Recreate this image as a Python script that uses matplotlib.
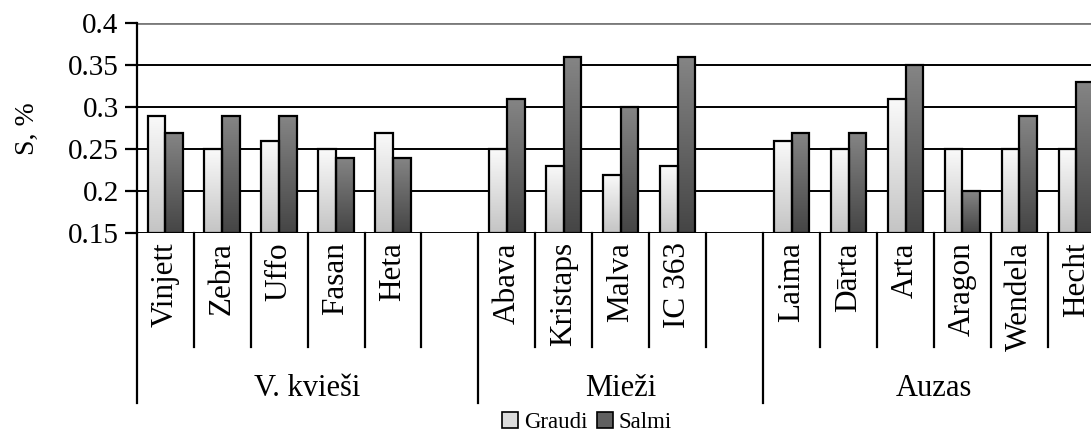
import numpy as np
import matplotlib
matplotlib.use("Agg")
import matplotlib.pyplot as plt
import matplotlib.transforms as mtransforms
from matplotlib.patches import Patch

plt.rcParams["font.family"] = ["Liberation Serif", "DejaVu Serif"]

# %%
groups = ["V. kvieši", "Mieži", "Auzas"]
varieties = [
    ["Vinjett", "Zebra", "Uffo", "Fasan", "Heta"],
    ["Abava", "Kristaps", "Malva", "IC 363"],
    ["Laima", "Dārta", "Arta", "Aragon", "Wendela", "Hecht"],
]
graudi = [
    [0.29, 0.25, 0.26, 0.25, 0.27],
    [0.25, 0.23, 0.22, 0.23],
    [0.26, 0.25, 0.31, 0.25, 0.25, 0.25],
]
salmi = [
    [0.27, 0.29, 0.29, 0.24, 0.24],
    [0.31, 0.36, 0.30, 0.36],
    [0.27, 0.27, 0.35, 0.20, 0.29, 0.33],
]
# an empty slot follows every group except the last
gap_after = [1, 1, 0]

# %%
labels, g_vals, s_vals, slot_x = [], [], [], []
group_span = []
pos = 0
for gi, names in enumerate(varieties):
    start = pos
    for k, name in enumerate(names):
        labels.append(name)
        g_vals.append(graudi[gi][k])
        s_vals.append(salmi[gi][k])
        slot_x.append(pos + 0.5)
        pos += 1
    pos += gap_after[gi]
    group_span.append((start, pos))
n_slots = pos
slot_x = np.array(slot_x)

# %%
W, H, DPI = 10.91, 4.34, 100
fig = plt.figure(figsize=(W, H), dpi=DPI)
left, bottom, top = 136.7 / 1091, 200.7 / 434, 410.7 / 434
ax_w = n_slots * 56.95 / 1091
ax = fig.add_axes([left, bottom, ax_w, top - bottom])

ymin, ymax = 0.15, 0.4
bw = 0.31
grad = np.linspace(0, 1, 256).reshape(-1, 1)


def gradient_bars(xs, vals, top_c, bot_c):
    bars = ax.bar(xs, np.array(vals) - ymin, bw, bottom=ymin,
                  facecolor="none", edgecolor="black", linewidth=1.6, zorder=4)
    cmap = matplotlib.colors.LinearSegmentedColormap.from_list("g", [bot_c, top_c])
    for b in bars:
        x0, y0 = b.get_x(), b.get_y()
        im = ax.imshow(grad, cmap=cmap, origin="lower", aspect="auto",
                       extent=[x0, x0 + b.get_width(), y0, y0 + b.get_height()],
                       zorder=3)
        im.set_clip_path(b)
    return bars


gradient_bars(slot_x - bw / 2, g_vals, "#fafafa", "#c4c4c4")
gradient_bars(slot_x + bw / 2, s_vals, "#858585", "#454545")
ax.set_xlim(0, n_slots)
ax.set_ylim(ymin, ymax)

# gridlines
for yv in [0.15, 0.2, 0.25, 0.3, 0.35]:
    ax.axhline(yv, color="black", linewidth=1.4, zorder=2)
ax.axhline(0.4, color="#7a7a7a", linewidth=2.0, zorder=2)

for s in ["top", "right", "bottom"]:
    ax.spines[s].set_visible(False)
ax.spines["left"].set_linewidth(1.6)
ax.set_yticks([0.15, 0.2, 0.25, 0.3, 0.35, 0.4])
ax.set_yticklabels(["0.15", "0.2", "0.25", "0.3", "0.35", "0.4"])
ax.tick_params(axis="y", length=9, width=1.6, labelsize=21, pad=4)
ax.set_xticks([])
fig.text(27 / 1091, 1 - 129 / 434, "S, %", rotation=90, ha="center",
         va="center", fontsize=20)

# category axis: separators, variety and group labels
trans = mtransforms.blended_transform_factory(ax.transData, ax.transAxes)
ax_h_px = (top - bottom) * 434
short = -114 / ax_h_px
long_ = -170 / ax_h_px
group_edges = {a for a, _ in group_span} | {n_slots}
for xb in range(n_slots + 1):
    y1 = long_ if xb in group_edges else short
    ax.plot([xb, xb], [0, y1], color="black", linewidth=1.6,
            transform=trans, clip_on=False)

lab_y = -9 / ax_h_px
for x, name in zip(slot_x, labels):
    ax.text(x, lab_y, name, rotation=90, ha="center", va="top",
            fontsize=22.5, transform=trans)

grp_y = -155 / ax_h_px
for (a, b), name in zip(group_span, groups):
    ax.text((a + b) / 2, grp_y, name, ha="center", va="center",
            fontsize=22, transform=trans)

handles = [Patch(facecolor="#dcdcdc", edgecolor="black", linewidth=1.2),
           Patch(facecolor="#606060", edgecolor="black", linewidth=1.2)]
fig.legend(handles, ["Graudi", "Salmi"], loc="center", ncol=2,
           bbox_to_anchor=(0.538, 0.026), frameon=False, fontsize=16.5,
           handlelength=0.7, handleheight=0.7, handletextpad=0.25,
           columnspacing=0.4, borderpad=0)

fig.savefig("out.png", dpi=DPI)
